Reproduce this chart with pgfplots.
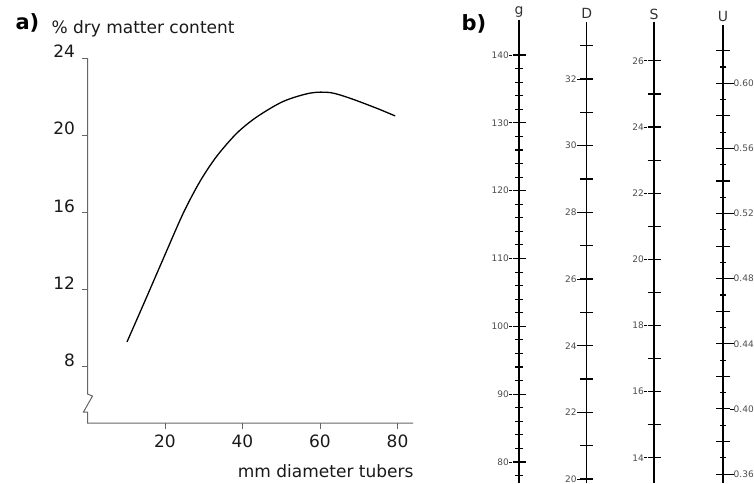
\documentclass[border=0pt]{standalone}
\usepackage{pgfplots}
\pgfplotsset{compat=1.18}
\usepackage{fontspec}
\setmainfont{DejaVu Sans}
\newcommand{\fs}[1]{\fontsize{#1}{#1}\selectfont}
\newcommand{\ld}{\textcolor{black}{\rule[2.9pt]{3.5pt}{0.8pt}}}
\pgfplotsset{nomo/.style={
  scale only axis, width=10pt, xmin=0, xmax=1,
  axis x line=none, axis y line=#1,
  axis line style={-, line width=1.3pt, black},
  y axis line style={-},
  tick align=center, major tick length=13pt, minor tick length=8pt,
  tick style={black, line width=1.1pt},
  yticklabel style={font=\fs{9}, text=black!70, inner sep=0pt},
  every axis y label/.style={at={(rel axis cs:0,1)}, anchor=base, yshift=3pt, font=\fs{14}, text=black!80},
  clip=false,
}}
\begin{document}
\begin{tikzpicture}
\useasboundingbox (0pt,0pt) rectangle (754pt,483pt);
% ---------- panel a ----------
\begin{axis}[
  at={(87.5pt,60pt)}, anchor=south west,
  scale only axis, width=325.5pt, height=365pt,
  xmin=0, xmax=84, ymin=5.1, ymax=24,
  axis lines=left, axis line style={draw=none},
  clip=false,
  xtick={20,40,60,80}, ytick={8,12,16,20,24},
  tick align=outside, major tick length=6pt,
  tick style={black!60, line width=1pt},
  /pgf/number format/assume math mode=true,
  tick label style={font=\fs{17}, text=black!90},
  xticklabel style={yshift=-2pt},
  yticklabel style={yshift=6.5pt, xshift=-3pt},
  xlabel={mm diameter tubers}, ylabel={\% dry matter content},
  every axis x label/.style={at={(rel axis cs:1,0)}, anchor=base east, xshift=4pt, yshift=-54pt, font=\fs{17}, text=black!90},
  every axis y label/.style={at={(rel axis cs:0,1)}, anchor=base west, xshift=-39.5pt, yshift=24.7pt, font=\fs{17}, text=black!90},
]
\draw[black!60, line width=1pt] (axis cs:0,24) -- (axis cs:0,6.6) -- ++(5pt,-2pt) -- ++(-9pt,-16pt) -- ++(4pt,0pt) -- (axis cs:0,5.1) -- (axis cs:84,5.1);
\addplot[black, line width=1.3pt, smooth] coordinates {
(10.2,9.3) (15,11.5) (19.6,13.63) (24.7,15.96) (29,17.6) (33.3,18.9) (38.5,20.1)
(43.7,20.95) (50.5,21.75) (57.4,22.18) (62.6,22.21) (67.7,21.92) (74.6,21.40) (79.4,21.0)};
\end{axis}
\node[anchor=base west, font=\bfseries\fs{21}] at (12pt,453pt) {a)};
\node[anchor=base west, font=\bfseries\fs{21}] at (458pt,452pt) {b)};
% ---------- nomogram g ----------
\begin{axis}[nomo=left, at={(519pt,0pt)}, anchor=south west, height=463pt,
  ymin=76.9, ymax=145.16,
  ytick={80,90,100,110,120,130,140},
  yticklabels={80\ld,90\ld,100\ld,110\ld,120\ld,130\ld,140\ld},
  minor ytick={78,80,...,138},
  ylabel={g}, every axis y label/.append style={yshift=3pt}]
\end{axis}
% ---------- nomogram D ----------
\begin{axis}[nomo=left, at={(586.7pt,0pt)}, anchor=south west, height=461pt,
  ymin=19.88, ymax=33.71, minor tick length=13pt,
  ytick={20,22,24,26,28,30,32},
  yticklabels={20\ld,22\ld,24\ld,26\ld,28\ld,30\ld,32\ld},
  minor ytick={21,23,...,33},
  ylabel={D}]
\end{axis}
% ---------- nomogram S ----------
\begin{axis}[nomo=left, at={(654pt,0pt)}, anchor=south west, height=460.5pt,
  ymin=13.24, ymax=27.16, minor tick length=13pt,
  ytick={14,16,18,20,22,24,26},
  yticklabels={14\ld,16\ld,18\ld,20\ld,22\ld,24\ld,26\ld},
  minor ytick={15,17,...,25},
  ylabel={S}]
\end{axis}
% ---------- nomogram U ----------
\begin{axis}[nomo=right, at={(723pt,0pt)}, anchor=south east, height=458pt,
  ymin=0.3545, ymax=0.6358,
  major tick length=14pt, minor tick length=6pt,
  ytick={0.36,0.38,0.40,0.42,0.44,0.46,0.48,0.50,0.52,0.54,0.56,0.58,0.60,0.62},
  yticklabels={\ld 0.36,,\ld 0.40,,\ld 0.44,,\ld 0.48,,\ld 0.52,,\ld 0.56,,\ld 0.60,},
  minor ytick={0.37,0.39,0.41,0.43,0.45,0.47,0.49,0.51,0.53,0.55,0.57,0.59,0.61}]
\end{axis}
\node[anchor=base, font=\fs{14}, text=black!80] at (723pt,461pt) {U};
\end{tikzpicture}
\end{document}
